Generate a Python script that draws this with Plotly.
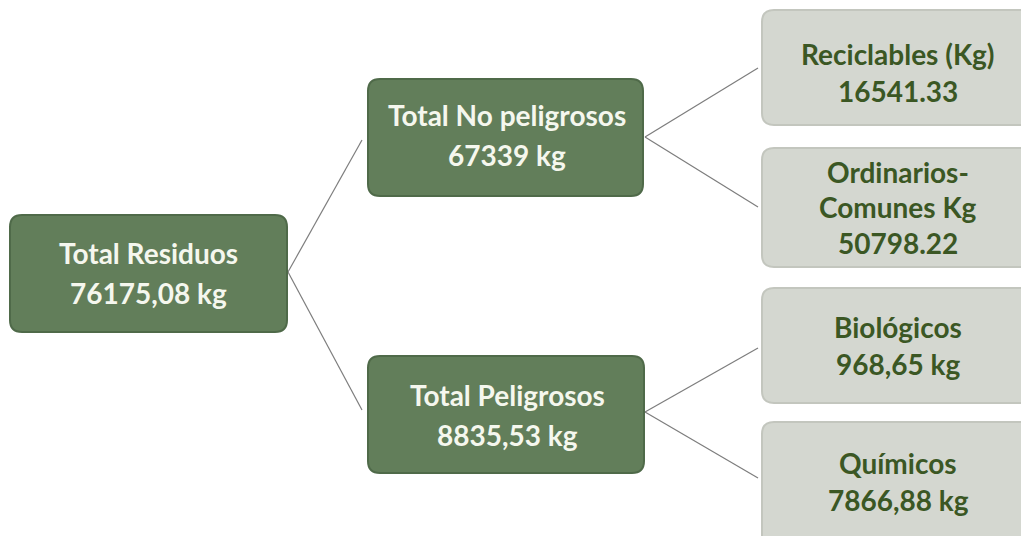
import plotly.graph_objects as go

# ---- data ----
node_titles = ["Total Residuos", "Total No peligrosos", "Total Peligrosos",
               "Reciclables (Kg)", "Ordinarios-<br>Comunes Kg", "Biológicos", "Químicos"]
node_values = ["76175,08 kg", "67339 kg", "8835,53 kg",
               "16541.33", "50798.22", "968,65 kg", "7866,88 kg"]
node_parent = [None, 0, 0, 1, 1, 2, 2]
node_level = [0, 1, 1, 2, 2, 2, 2]

# ---- layout (pixel geometry, page coordinates) ----
W, H = 1029, 536
PAGE_OFF = 8  # browser body margin
boxes = [  # x0, y0, x1, y1
    (10, 215, 287, 332),
    (368, 79, 643, 196),
    (368, 356, 644, 473),
    (762, 10, 1045, 125),
    (762, 148, 1045, 267),
    (762, 288, 1045, 403),
    (762, 422, 1045, 548),
]
text_lines_y = [
    [253, 293],
    [115, 155],
    [395, 435],
    [54, 91],
    [172, 207, 243],
    [327, 364],
    [463, 500],
]
text_x = [148, 507, 507, 898, 898, 898, 898]
link_src = [(288, 272), (288, 272), (645, 137), (645, 137), (645, 412), (645, 412)]
link_dst = [(362, 140), (362, 410), (758, 68), (758, 207), (758, 348), (758, 478)]

dark_fill = "#627e5a"
dark_line = "#4f6a49"
light_fill = "#d4d7d0"
light_line = "#c3c6be"
dark_text = "#f5f7ee"
light_text = "#3b5724"


def rounded(x0, y0, x1, y1, r=12):
    return (f"M {x0+r},{y0} L {x1-r},{y0} Q {x1},{y0} {x1},{y0+r} "
            f"L {x1},{y1-r} Q {x1},{y1} {x1-r},{y1} L {x0+r},{y1} "
            f"Q {x0},{y1} {x0},{y1-r} L {x0},{y0+r} Q {x0},{y0} {x0+r},{y0} Z")


fig = go.Figure()
fig.add_trace(go.Scatter(x=[PAGE_OFF, W + PAGE_OFF], y=[PAGE_OFF, H + PAGE_OFF], mode="markers",
                         marker=dict(opacity=0), hoverinfo="skip", showlegend=False))

shapes = []
for i, p in enumerate(node_parent):
    if p is None:
        continue
    (sx, sy), (dx, dy) = link_src[i - 1], link_dst[i - 1]
    shapes.append(dict(type="line", x0=sx, y0=sy, x1=dx, y1=dy,
                       line=dict(color="#7d7d7d", width=1.2), layer="below"))

annotations = []
for i, (title, val) in enumerate(zip(node_titles, node_values)):
    x0, y0, x1, y1 = boxes[i]
    dark = node_level[i] < 2
    shapes.append(dict(type="path", path=rounded(x0, y0, x1, y1),
                       fillcolor=dark_fill if dark else light_fill,
                       line=dict(color=dark_line if dark else light_line, width=2)))
    lines = title.split("<br>") + [val]
    for txt, ty in zip(lines, text_lines_y[i]):
        annotations.append(dict(x=text_x[i], y=ty, text=f"<b>{txt}</b>", showarrow=False,
                                xanchor="center", yanchor="middle",
                                font=dict(family="Lato, 'Open Sans', sans-serif", size=28,
                                          color=dark_text if dark else light_text)))

fig.update_layout(
    width=W, height=H,
    margin=dict(l=0, r=0, t=0, b=0),
    paper_bgcolor="white", plot_bgcolor="white",
    xaxis=dict(range=[PAGE_OFF, W + PAGE_OFF], visible=False, fixedrange=True),
    yaxis=dict(range=[H + PAGE_OFF, PAGE_OFF], visible=False, fixedrange=True),
    shapes=shapes, annotations=annotations, showlegend=False,
)
fig.write_html("out.html")
